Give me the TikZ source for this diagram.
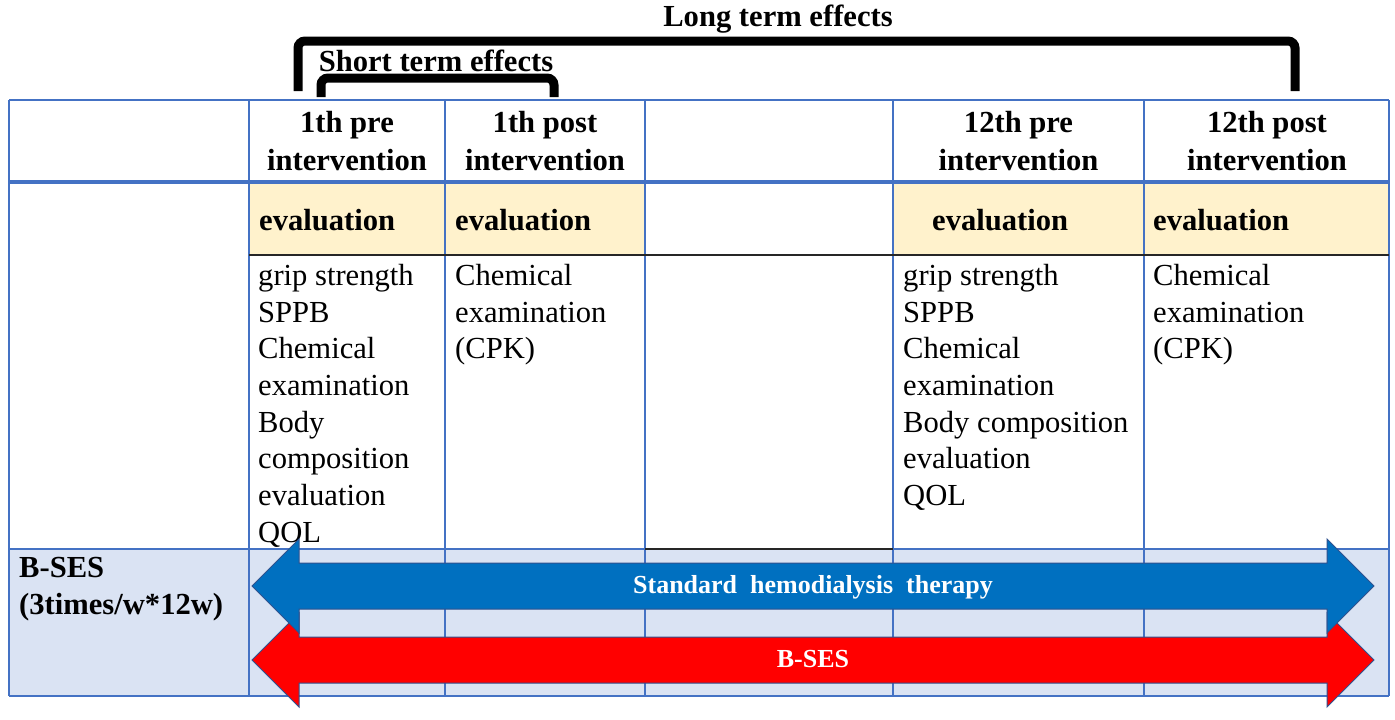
\documentclass[tikz,border=0pt]{standalone}
\usepackage{fontspec}
\setmainfont{Liberation Serif}
\definecolor{gridblue}{HTML}{4472C4}
\definecolor{evalyellow}{HTML}{FFF2CC}
\definecolor{rowblue}{HTML}{DAE3F3}
\definecolor{arrowblue}{HTML}{0070C0}
\definecolor{arrowred}{HTML}{FF0000}
\definecolor{arrowline}{HTML}{2F528F}
\tikzset{
  gridline/.style={draw=gridblue, line width=1.6pt},
  blackline/.style={draw=black!85, line width=2.2pt},
  bracketline/.style={draw=black, line width=9pt, rounded corners=7pt},
  bodytext/.style={font=\fontsize{30.6}{36.7}\selectfont, inner sep=0pt, align=left, anchor=north west},
  headtext/.style={font=\bfseries\fontsize{30.6}{38}\selectfont, inner sep=0pt, align=center, anchor=north},
  evaltext/.style={font=\bfseries\fontsize{30.6}{36.7}\selectfont, inner sep=0pt, anchor=base west},
  titletext/.style={font=\bfseries\fontsize{30.6}{36.7}\selectfont, inner sep=0pt, anchor=base},
  arrowtext/.style={font=\bfseries\fontsize{26}{30}\selectfont, text=white, inner sep=0pt, anchor=base},
  bigarrow/.style={draw=arrowline, line width=1pt}
}
\begin{document}
\begin{tikzpicture}[x=1pt,y=-1pt]
\useasboundingbox (0,0) rectangle (1395,720);
% fills
\fill[white] (0,0) rectangle (1395,720);
\fill[evalyellow] (249,182) rectangle (645,255);
\fill[evalyellow] (893,182) rectangle (1389,255);
\fill[rowblue] (9,549) rectangle (1389,696);
% grid
\draw[gridline] (9,100) -- (1389,100);
\draw[gridline] (9,696) -- (1389,696);
\draw[gridline] (9,549) -- (645,549);
\draw[gridline] (893,549) -- (1389,549);
\foreach \xx in {9,249,445,645,893,1144,1389}{
  \draw[gridline] (\xx,100) -- (\xx,696);
}
\draw[draw=gridblue, line width=3.6pt] (9,182) -- (1389,182);
\draw[blackline] (249,255) -- (1389,255);
\draw[blackline] (645,549) -- (893,549);
% brackets
\draw[bracketline] (298,91) -- (298,41) -- (1295,41) -- (1295,91);
\draw[bracketline] (321,97) -- (321,78) -- (554,78) -- (554,97);
\node[titletext] (longterm) at (778,27) {Long term effects};
\node[titletext] (shortterm) at (436,71) {Short term effects};
% header
\node[headtext] (h1pre) at (347,111) {1th pre\\intervention};
\node[headtext] (h1post) at (545,111) {1th post\\intervention};
\node[headtext] (h12pre) at (1018.5,111) {12th pre\\intervention};
\node[headtext] (h12post) at (1267,111) {12th post\\intervention};
% evaluation row
\node[evaltext] (e1pre) at (259,230) {evaluation};
\node[evaltext] (e1post) at (455,230) {evaluation};
\node[evaltext] (e12pre) at (932,230) {evaluation};
\node[evaltext] (e12post) at (1153,230) {evaluation};
% contents
\node[bodytext] (c1pre) at (258,264) {grip strength\\SPPB\\Chemical\\examination\\Body\\composition\\evaluation\\QOL};
\node[bodytext] (c1post) at (455,264) {Chemical\\examination\\(CPK)};
\node[bodytext] (c12pre) at (903,264) {grip strength\\SPPB\\Chemical\\examination\\Body composition\\evaluation\\QOL};
\node[bodytext] (c12post) at (1153,264) {Chemical\\examination\\(CPK)};
% B-SES label
\node[font=\bfseries\fontsize{30.6}{37}\selectfont, inner sep=0pt, align=left, anchor=north west] (bses) at (19,557.5) {B-SES\\(3times/w*12w)};
% arrows (red below blue)
\filldraw[bigarrow, fill=arrowred] (252,660) -- (299,613) -- (299,637) -- (1327,637) -- (1327,613) -- (1374,660) -- (1327,707) -- (1327,683) -- (299,683) -- (299,707) -- cycle;
\filldraw[bigarrow, fill=arrowblue] (252,586) -- (299,539) -- (299,563) -- (1327,563) -- (1327,539) -- (1374,586) -- (1327,633) -- (1327,609) -- (299,609) -- (299,633) -- cycle;
\node[arrowtext] (hemo) at (813,593) {Standard\hspace{13pt}hemodialysis\hspace{13pt}therapy};
\node[arrowtext] (bsesarrow) at (813,667) {B-SES};
\end{tikzpicture}
\end{document}
